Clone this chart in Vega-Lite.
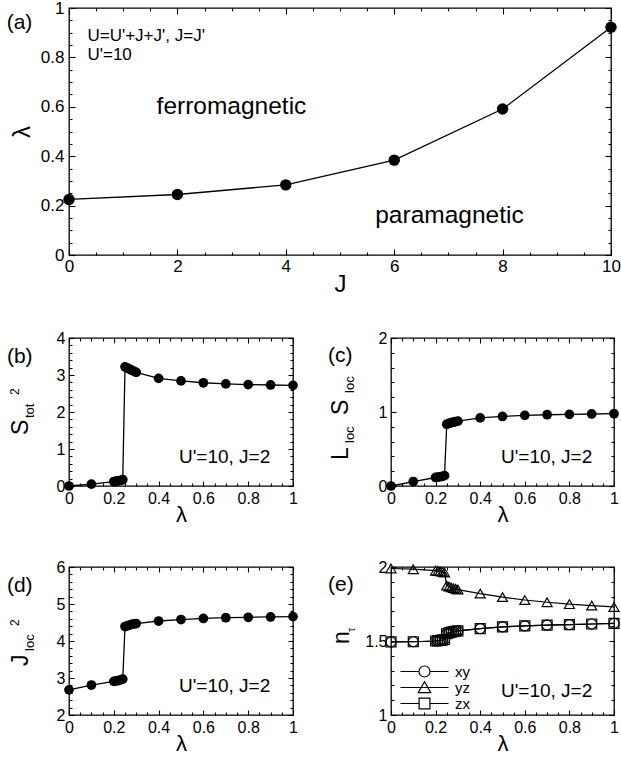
{
  "$schema": "https://vega.github.io/schema/vega-lite/v6.json",
  "padding": {"left": 6, "top": -2, "right": 0, "bottom": 0},
  "spacing": 32,
  "resolve": {"scale": {"shape": "independent"}, "legend": {"shape": "independent"}},
  "config": {
    "font": "Liberation Sans",
    "view": {"stroke": "black", "strokeWidth": 1.3},
    "axis": {
      "domain": false, "grid": false, "tickColor": "black", "tickWidth": 1.1,
      "labelColor": "black", "titleColor": "black", "labelFont": "Liberation Sans",
      "titleFont": "Liberation Sans", "titleFontWeight": "normal",
      "labelFlush": false, "labelOverlap": false, "labelBound": false
    },
    "text": {"color": "black", "font": "Liberation Sans"}
  },
  "datasets": {
    "phase": [
      {"J": 0, "lam": 0.225}, {"J": 2, "lam": 0.245}, {"J": 4, "lam": 0.284},
      {"J": 6, "lam": 0.384}, {"J": 8, "lam": 0.591}, {"J": 10, "lam": 0.922}
    ],
    "loc": [
      {"lam": 0, "S2": 0.0, "LS": 0.0, "J2": 2.68},
      {"lam": 0.1, "S2": 0.05, "LS": 0.06, "J2": 2.81},
      {"lam": 0.2, "S2": 0.12, "LS": 0.115, "J2": 2.91},
      {"lam": 0.21, "S2": 0.13, "LS": 0.12, "J2": 2.92},
      {"lam": 0.22, "S2": 0.14, "LS": 0.125, "J2": 2.93},
      {"lam": 0.23, "S2": 0.15, "LS": 0.13, "J2": 2.95},
      {"lam": 0.24, "S2": 0.17, "LS": 0.14, "J2": 2.97},
      {"lam": 0.25, "S2": 3.22, "LS": 0.835, "J2": 4.39},
      {"lam": 0.26, "S2": 3.19, "LS": 0.845, "J2": 4.41},
      {"lam": 0.27, "S2": 3.16, "LS": 0.855, "J2": 4.43},
      {"lam": 0.28, "S2": 3.13, "LS": 0.862, "J2": 4.45},
      {"lam": 0.29, "S2": 3.10, "LS": 0.87, "J2": 4.46},
      {"lam": 0.3, "S2": 3.07, "LS": 0.876, "J2": 4.47},
      {"lam": 0.4, "S2": 2.91, "LS": 0.92, "J2": 4.54},
      {"lam": 0.5, "S2": 2.84, "LS": 0.94, "J2": 4.58},
      {"lam": 0.6, "S2": 2.79, "LS": 0.955, "J2": 4.61},
      {"lam": 0.7, "S2": 2.76, "LS": 0.963, "J2": 4.63},
      {"lam": 0.8, "S2": 2.74, "LS": 0.968, "J2": 4.64},
      {"lam": 0.9, "S2": 2.73, "LS": 0.973, "J2": 4.65},
      {"lam": 1.0, "S2": 2.72, "LS": 0.977, "J2": 4.66}
    ],
    "occ": [
      {"lam": 0, "orb": "xy", "n": 1.494}, {"lam": 0.1, "orb": "xy", "n": 1.495},
      {"lam": 0.2, "orb": "xy", "n": 1.5}, {"lam": 0.21, "orb": "xy", "n": 1.502},
      {"lam": 0.22, "orb": "xy", "n": 1.504}, {"lam": 0.23, "orb": "xy", "n": 1.506},
      {"lam": 0.24, "orb": "xy", "n": 1.51}, {"lam": 0.25, "orb": "xy", "n": 1.55},
      {"lam": 0.26, "orb": "xy", "n": 1.555}, {"lam": 0.27, "orb": "xy", "n": 1.56},
      {"lam": 0.28, "orb": "xy", "n": 1.563}, {"lam": 0.29, "orb": "xy", "n": 1.566},
      {"lam": 0.3, "orb": "xy", "n": 1.569}, {"lam": 0.4, "orb": "xy", "n": 1.584},
      {"lam": 0.5, "orb": "xy", "n": 1.595}, {"lam": 0.6, "orb": "xy", "n": 1.602},
      {"lam": 0.7, "orb": "xy", "n": 1.607}, {"lam": 0.8, "orb": "xy", "n": 1.611},
      {"lam": 0.9, "orb": "xy", "n": 1.615}, {"lam": 1.0, "orb": "xy", "n": 1.619},
      {"lam": 0, "orb": "yz", "n": 1.99}, {"lam": 0.1, "orb": "yz", "n": 1.985},
      {"lam": 0.2, "orb": "yz", "n": 1.975}, {"lam": 0.21, "orb": "yz", "n": 1.972},
      {"lam": 0.22, "orb": "yz", "n": 1.97}, {"lam": 0.23, "orb": "yz", "n": 1.967},
      {"lam": 0.24, "orb": "yz", "n": 1.963}, {"lam": 0.25, "orb": "yz", "n": 1.875},
      {"lam": 0.26, "orb": "yz", "n": 1.868}, {"lam": 0.27, "orb": "yz", "n": 1.862},
      {"lam": 0.28, "orb": "yz", "n": 1.857}, {"lam": 0.29, "orb": "yz", "n": 1.852},
      {"lam": 0.3, "orb": "yz", "n": 1.847}, {"lam": 0.4, "orb": "yz", "n": 1.82},
      {"lam": 0.5, "orb": "yz", "n": 1.797}, {"lam": 0.6, "orb": "yz", "n": 1.777},
      {"lam": 0.7, "orb": "yz", "n": 1.762}, {"lam": 0.8, "orb": "yz", "n": 1.749},
      {"lam": 0.9, "orb": "yz", "n": 1.739}, {"lam": 1.0, "orb": "yz", "n": 1.73},
      {"lam": 0, "orb": "zx", "n": 1.494}, {"lam": 0.1, "orb": "zx", "n": 1.495},
      {"lam": 0.2, "orb": "zx", "n": 1.5}, {"lam": 0.21, "orb": "zx", "n": 1.502},
      {"lam": 0.22, "orb": "zx", "n": 1.504}, {"lam": 0.23, "orb": "zx", "n": 1.506},
      {"lam": 0.24, "orb": "zx", "n": 1.51}, {"lam": 0.25, "orb": "zx", "n": 1.55},
      {"lam": 0.26, "orb": "zx", "n": 1.555}, {"lam": 0.27, "orb": "zx", "n": 1.56},
      {"lam": 0.28, "orb": "zx", "n": 1.563}, {"lam": 0.29, "orb": "zx", "n": 1.566},
      {"lam": 0.3, "orb": "zx", "n": 1.569}, {"lam": 0.4, "orb": "zx", "n": 1.584},
      {"lam": 0.5, "orb": "zx", "n": 1.595}, {"lam": 0.6, "orb": "zx", "n": 1.602},
      {"lam": 0.7, "orb": "zx", "n": 1.607}, {"lam": 0.8, "orb": "zx", "n": 1.611},
      {"lam": 0.9, "orb": "zx", "n": 1.615}, {"lam": 1.0, "orb": "zx", "n": 1.619}
    ]
  },
  "vconcat": [
    {
      "width": 542, "height": 247,
      "data": {"name": "phase"},
      "resolve": {"axis": {"x": "independent", "y": "independent"}},
      "layer": [
        {
          "mark": {"type": "line", "color": "black", "strokeWidth": 1.3},
          "encoding": {
            "x": {"field": "J", "type": "quantitative", "scale": {"domain": [0, 10], "nice": false, "zero": false},
              "axis": {"orient": "bottom", "values": [0, 2, 4, 6, 8, 10], "labelExpr": "'' + datum.value", "tickSize": -6, "labelPadding": 9, "labelFontSize": 17, "title": "J", "titleFontSize": 24, "titlePadding": -2}},
            "y": {"field": "lam", "type": "quantitative", "scale": {"domain": [0, 1], "nice": false, "zero": false},
              "axis": {"orient": "left", "values": [0, 0.2, 0.4, 0.6, 0.8, 1], "labelExpr": "'' + datum.value", "tickSize": -6, "labelPadding": 11, "labelFontSize": 17, "title": "λ", "titleFontSize": 24, "titlePadding": 6}}
          }
        },
        {
          "mark": {"type": "point", "filled": true, "color": "black", "size": 130, "opacity": 1},
          "encoding": {
            "x": {"field": "J", "type": "quantitative",
              "axis": {"orient": "bottom", "values": [0.5, 1, 1.5, 2.5, 3, 3.5, 4.5, 5, 5.5, 6.5, 7, 7.5, 8.5, 9, 9.5], "labels": false, "tickSize": -3, "title": null}},
            "y": {"field": "lam", "type": "quantitative",
              "axis": {"orient": "left", "values": [0.05, 0.1, 0.15, 0.25, 0.3, 0.35, 0.45, 0.5, 0.55, 0.65, 0.7, 0.75, 0.85, 0.9, 0.95], "labels": false, "tickSize": -3, "title": null}}
          }
        },
        {
          "data": {"values": [{}]},
          "mark": {"type": "text", "text": "U=U'+J+J', J=J'", "fontSize": 17, "align": "left", "baseline": "alphabetic"},
          "encoding": {
            "x": {"datum": 0.34, "type": "quantitative",
              "axis": {"orient": "top", "values": [0, 2, 4, 6, 8, 10], "labels": false, "tickSize": -6, "title": null}},
            "y": {"datum": 0.866, "type": "quantitative",
              "axis": {"orient": "right", "values": [0, 0.2, 0.4, 0.6, 0.8, 1], "labels": false, "tickSize": -6, "title": null}}
          }
        },
        {
          "data": {"values": [{}]},
          "mark": {"type": "text", "text": "U'=10", "fontSize": 17, "align": "left", "baseline": "alphabetic"},
          "encoding": {
            "x": {"datum": 0.34, "type": "quantitative",
              "axis": {"orient": "top", "values": [0.5, 1, 1.5, 2.5, 3, 3.5, 4.5, 5, 5.5, 6.5, 7, 7.5, 8.5, 9, 9.5], "labels": false, "tickSize": -3, "title": null}},
            "y": {"datum": 0.788, "type": "quantitative",
              "axis": {"orient": "right", "values": [0.05, 0.1, 0.15, 0.25, 0.3, 0.35, 0.45, 0.5, 0.55, 0.65, 0.7, 0.75, 0.85, 0.9, 0.95], "labels": false, "tickSize": -3, "title": null}}
          }
        },
        {
          "data": {"values": [{}]},
          "mark": {"type": "text", "text": "ferromagnetic", "fontSize": 24.5, "align": "left", "baseline": "alphabetic"},
          "encoding": {"x": {"datum": 1.616, "type": "quantitative", "axis": null}, "y": {"datum": 0.571, "type": "quantitative", "axis": null}}
        },
        {
          "data": {"values": [{}]},
          "mark": {"type": "text", "text": "paramagnetic", "fontSize": 24.5, "align": "left", "baseline": "alphabetic"},
          "encoding": {"x": {"datum": 5.65, "type": "quantitative", "axis": null}, "y": {"datum": 0.128, "type": "quantitative", "axis": null}}
        },
        {
          "data": {"values": [{}]},
          "mark": {"type": "text", "text": "(a)", "fontSize": 21, "align": "left", "baseline": "middle"},
          "encoding": {"x": {"datum": -1.15, "type": "quantitative", "axis": null}, "y": {"datum": 0.938, "type": "quantitative", "axis": null}}
        }
      ]
    },
    {
      "spacing": 28,
      "hconcat": [
        {
          "width": 224, "height": 148,
          "data": {"name": "loc"},
          "resolve": {"axis": {"x": "independent", "y": "independent"}},
          "layer": [
            {
              "mark": {"type": "line", "color": "black", "strokeWidth": 1.3},
              "encoding": {
                "x": {"field": "lam", "type": "quantitative", "scale": {"domain": [0, 1], "nice": false, "zero": false},
                  "axis": {"orient": "bottom", "values": [0, 0.2, 0.4, 0.6, 0.8, 1], "labelExpr": "'' + datum.value", "tickSize": -5, "labelPadding": 9, "labelFontSize": 16, "title": "λ", "titleFontSize": 22, "titlePadding": -2}},
                "y": {"field": "S2", "type": "quantitative", "scale": {"domain": [0, 4], "nice": false, "zero": false},
                  "axis": {"orient": "left", "values": [0, 1, 2, 3, 4], "labelExpr": "'' + datum.value", "tickSize": -5, "labelPadding": 9, "labelFontSize": 16, "title": null}}
              }
            },
            {
              "mark": {"type": "point", "filled": true, "color": "black", "size": 95, "opacity": 1},
              "encoding": {
                "x": {"field": "lam", "type": "quantitative",
                  "axis": {"orient": "bottom", "values": [0.05, 0.1, 0.15, 0.25, 0.3, 0.35, 0.45, 0.5, 0.55, 0.65, 0.7, 0.75, 0.85, 0.9, 0.95], "labels": false, "tickSize": -3, "title": null}},
                "y": {"field": "S2", "type": "quantitative",
                  "axis": {"orient": "left", "values": [0.2, 0.4, 0.6, 0.8, 1.2, 1.4, 1.6, 1.8, 2.2, 2.4, 2.6, 2.8, 3.2, 3.4, 3.6, 3.8], "labels": false, "tickSize": -3, "title": null}}
              }
            },
            {
              "data": {"values": [{}]},
              "mark": {"type": "text", "text": "U'=10, J=2", "fontSize": 19, "align": "left", "baseline": "alphabetic"},
              "encoding": {
                "x": {"datum": 0.491, "type": "quantitative",
                  "axis": {"orient": "top", "values": [0, 0.2, 0.4, 0.6, 0.8, 1], "labels": false, "tickSize": -5, "title": null}},
                "y": {"datum": 0.62, "type": "quantitative",
                  "axis": {"orient": "right", "values": [0, 1, 2, 3, 4], "labels": false, "tickSize": -5, "title": null}}
              }
            },
            {
              "data": {"values": [{}]},
              "mark": {"type": "text", "text": "(b)", "fontSize": 21, "align": "left", "baseline": "middle"},
              "encoding": {
                "x": {"datum": -0.277, "type": "quantitative",
                  "axis": {"orient": "top", "values": [0.05, 0.1, 0.15, 0.25, 0.3, 0.35, 0.45, 0.5, 0.55, 0.65, 0.7, 0.75, 0.85, 0.9, 0.95], "labels": false, "tickSize": -3, "title": null}},
                "y": {"datum": 3.49, "type": "quantitative",
                  "axis": {"orient": "right", "values": [0.2, 0.4, 0.6, 0.8, 1.2, 1.4, 1.6, 1.8, 2.2, 2.4, 2.6, 2.8, 3.2, 3.4, 3.6, 3.8], "labels": false, "tickSize": -3, "title": null}}
              }
            },
            {
              "data": {"values": [{}]},
              "mark": {"type": "text", "text": "S", "fontSize": 23, "angle": 270, "align": "left", "baseline": "alphabetic"},
              "encoding": {"x": {"datum": -0.184, "type": "quantitative", "axis": null}, "y": {"datum": 1.378, "type": "quantitative", "axis": null}}
            },
            {
              "data": {"values": [{}]},
              "mark": {"type": "text", "text": "tot", "fontSize": 13, "angle": 270, "align": "left", "baseline": "alphabetic"},
              "encoding": {"x": {"datum": -0.156, "type": "quantitative", "axis": null}, "y": {"datum": 1.838, "type": "quantitative", "axis": null}}
            },
            {
              "data": {"values": [{}]},
              "mark": {"type": "text", "text": "2", "fontSize": 12, "angle": 270, "align": "left", "baseline": "alphabetic"},
              "encoding": {"x": {"datum": -0.223, "type": "quantitative", "axis": null}, "y": {"datum": 2.46, "type": "quantitative", "axis": null}}
            }
          ]
        },
        {
          "width": 223, "height": 148,
          "data": {"name": "loc"},
          "resolve": {"axis": {"x": "independent", "y": "independent"}},
          "layer": [
            {
              "mark": {"type": "line", "color": "black", "strokeWidth": 1.3},
              "encoding": {
                "x": {"field": "lam", "type": "quantitative", "scale": {"domain": [0, 1], "nice": false, "zero": false},
                  "axis": {"orient": "bottom", "values": [0, 0.2, 0.4, 0.6, 0.8, 1], "labelExpr": "'' + datum.value", "tickSize": -5, "labelPadding": 9, "labelFontSize": 16, "title": "λ", "titleFontSize": 22, "titlePadding": -2}},
                "y": {"field": "LS", "type": "quantitative", "scale": {"domain": [0, 2], "nice": false, "zero": false},
                  "axis": {"orient": "left", "values": [0, 1, 2], "labelExpr": "'' + datum.value", "tickSize": -5, "labelPadding": 9, "labelFontSize": 16, "title": null}}
              }
            },
            {
              "mark": {"type": "point", "filled": true, "color": "black", "size": 95, "opacity": 1},
              "encoding": {
                "x": {"field": "lam", "type": "quantitative",
                  "axis": {"orient": "bottom", "values": [0.05, 0.1, 0.15, 0.25, 0.3, 0.35, 0.45, 0.5, 0.55, 0.65, 0.7, 0.75, 0.85, 0.9, 0.95], "labels": false, "tickSize": -3, "title": null}},
                "y": {"field": "LS", "type": "quantitative",
                  "axis": {"orient": "left", "values": [0.2, 0.4, 0.6, 0.8, 1.2, 1.4, 1.6, 1.8], "labels": false, "tickSize": -3, "title": null}}
              }
            },
            {
              "data": {"values": [{}]},
              "mark": {"type": "text", "text": "U'=10, J=2", "fontSize": 19, "align": "left", "baseline": "alphabetic"},
              "encoding": {
                "x": {"datum": 0.493, "type": "quantitative",
                  "axis": {"orient": "top", "values": [0, 0.2, 0.4, 0.6, 0.8, 1], "labels": false, "tickSize": -5, "title": null}},
                "y": {"datum": 0.311, "type": "quantitative",
                  "axis": {"orient": "right", "values": [0, 1, 2], "labels": false, "tickSize": -5, "title": null}}
              }
            },
            {
              "data": {"values": [{}]},
              "mark": {"type": "text", "text": "(c)", "fontSize": 21, "align": "left", "baseline": "middle"},
              "encoding": {
                "x": {"datum": -0.2825, "type": "quantitative",
                  "axis": {"orient": "top", "values": [0.05, 0.1, 0.15, 0.25, 0.3, 0.35, 0.45, 0.5, 0.55, 0.65, 0.7, 0.75, 0.85, 0.9, 0.95], "labels": false, "tickSize": -3, "title": null}},
                "y": {"datum": 1.757, "type": "quantitative",
                  "axis": {"orient": "right", "values": [0.2, 0.4, 0.6, 0.8, 1.2, 1.4, 1.6, 1.8], "labels": false, "tickSize": -3, "title": null}}
              }
            },
            {
              "data": {"values": [{}]},
              "mark": {"type": "text", "text": "L", "fontSize": 23, "angle": 270, "align": "left", "baseline": "alphabetic"},
              "encoding": {"x": {"datum": -0.193, "type": "quantitative", "axis": null}, "y": {"datum": 0.351, "type": "quantitative", "axis": null}}
            },
            {
              "data": {"values": [{}]},
              "mark": {"type": "text", "text": "loc", "fontSize": 13, "angle": 270, "align": "left", "baseline": "alphabetic"},
              "encoding": {"x": {"datum": -0.166, "type": "quantitative", "axis": null}, "y": {"datum": 0.581, "type": "quantitative", "axis": null}}
            },
            {
              "data": {"values": [{}]},
              "mark": {"type": "text", "text": "S", "fontSize": 23, "angle": 270, "align": "left", "baseline": "alphabetic"},
              "encoding": {"x": {"datum": -0.193, "type": "quantitative", "axis": null}, "y": {"datum": 0.959, "type": "quantitative", "axis": null}}
            },
            {
              "data": {"values": [{}]},
              "mark": {"type": "text", "text": "loc", "fontSize": 13, "angle": 270, "align": "left", "baseline": "alphabetic"},
              "encoding": {"x": {"datum": -0.166, "type": "quantitative", "axis": null}, "y": {"datum": 1.257, "type": "quantitative", "axis": null}}
            }
          ]
        }
      ]
    },
    {
      "spacing": 28,
      "resolve": {"scale": {"shape": "independent"}, "legend": {"shape": "independent"}},
      "hconcat": [
        {
          "width": 224, "height": 148,
          "data": {"name": "loc"},
          "resolve": {"axis": {"x": "independent", "y": "independent"}},
          "layer": [
            {
              "mark": {"type": "line", "color": "black", "strokeWidth": 1.3},
              "encoding": {
                "x": {"field": "lam", "type": "quantitative", "scale": {"domain": [0, 1], "nice": false, "zero": false},
                  "axis": {"orient": "bottom", "values": [0, 0.2, 0.4, 0.6, 0.8, 1], "labelExpr": "'' + datum.value", "tickSize": -5, "labelPadding": 9, "labelFontSize": 16, "title": "λ", "titleFontSize": 22, "titlePadding": -2}},
                "y": {"field": "J2", "type": "quantitative", "scale": {"domain": [2, 6], "nice": false, "zero": false},
                  "axis": {"orient": "left", "values": [2, 3, 4, 5, 6], "labelExpr": "'' + datum.value", "tickSize": -5, "labelPadding": 9, "labelFontSize": 16, "title": null}}
              }
            },
            {
              "mark": {"type": "point", "filled": true, "color": "black", "size": 95, "opacity": 1},
              "encoding": {
                "x": {"field": "lam", "type": "quantitative",
                  "axis": {"orient": "bottom", "values": [0.05, 0.1, 0.15, 0.25, 0.3, 0.35, 0.45, 0.5, 0.55, 0.65, 0.7, 0.75, 0.85, 0.9, 0.95], "labels": false, "tickSize": -3, "title": null}},
                "y": {"field": "J2", "type": "quantitative",
                  "axis": {"orient": "left", "values": [2.2, 2.4, 2.6, 2.8, 3.2, 3.4, 3.6, 3.8, 4.2, 4.4, 4.6, 4.8, 5.2, 5.4, 5.6, 5.8], "labels": false, "tickSize": -3, "title": null}}
              }
            },
            {
              "data": {"values": [{}]},
              "mark": {"type": "text", "text": "U'=10, J=2", "fontSize": 19, "align": "left", "baseline": "alphabetic"},
              "encoding": {
                "x": {"datum": 0.491, "type": "quantitative",
                  "axis": {"orient": "top", "values": [0, 0.2, 0.4, 0.6, 0.8, 1], "labels": false, "tickSize": -5, "title": null}},
                "y": {"datum": 2.62, "type": "quantitative",
                  "axis": {"orient": "right", "values": [2, 3, 4, 5, 6], "labels": false, "tickSize": -5, "title": null}}
              }
            },
            {
              "data": {"values": [{}]},
              "mark": {"type": "text", "text": "(d)", "fontSize": 21, "align": "left", "baseline": "middle"},
              "encoding": {
                "x": {"datum": -0.277, "type": "quantitative",
                  "axis": {"orient": "top", "values": [0.05, 0.1, 0.15, 0.25, 0.3, 0.35, 0.45, 0.5, 0.55, 0.65, 0.7, 0.75, 0.85, 0.9, 0.95], "labels": false, "tickSize": -3, "title": null}},
                "y": {"datum": 5.49, "type": "quantitative",
                  "axis": {"orient": "right", "values": [2.2, 2.4, 2.6, 2.8, 3.2, 3.4, 3.6, 3.8, 4.2, 4.4, 4.6, 4.8, 5.2, 5.4, 5.6, 5.8], "labels": false, "tickSize": -3, "title": null}}
              }
            },
            {
              "data": {"values": [{}]},
              "mark": {"type": "text", "text": "J", "fontSize": 23, "angle": 270, "align": "left", "baseline": "alphabetic"},
              "encoding": {"x": {"datum": -0.184, "type": "quantitative", "axis": null}, "y": {"datum": 3.324, "type": "quantitative", "axis": null}}
            },
            {
              "data": {"values": [{}]},
              "mark": {"type": "text", "text": "loc", "fontSize": 13, "angle": 270, "align": "left", "baseline": "alphabetic"},
              "encoding": {"x": {"datum": -0.156, "type": "quantitative", "axis": null}, "y": {"datum": 3.73, "type": "quantitative", "axis": null}}
            },
            {
              "data": {"values": [{}]},
              "mark": {"type": "text", "text": "2", "fontSize": 12, "angle": 270, "align": "left", "baseline": "alphabetic"},
              "encoding": {"x": {"datum": -0.223, "type": "quantitative", "axis": null}, "y": {"datum": 4.405, "type": "quantitative", "axis": null}}
            }
          ]
        },
        {
          "width": 223, "height": 148,
          "data": {"name": "occ"},
          "resolve": {"axis": {"x": "independent", "y": "independent"}},
          "layer": [
            {
              "mark": {"type": "line", "color": "black", "strokeWidth": 1.2},
              "encoding": {
                "x": {"field": "lam", "type": "quantitative", "scale": {"domain": [0, 1], "nice": false, "zero": false},
                  "axis": {"orient": "bottom", "values": [0, 0.2, 0.4, 0.6, 0.8, 1], "labelExpr": "'' + datum.value", "tickSize": -5, "labelPadding": 9, "labelFontSize": 16, "title": "λ", "titleFontSize": 22, "titlePadding": -2}},
                "y": {"field": "n", "type": "quantitative", "scale": {"domain": [1, 2], "nice": false, "zero": false},
                  "axis": {"orient": "left", "values": [1, 1.5, 2], "labelExpr": "'' + datum.value", "tickSize": -5, "labelPadding": 9, "labelFontSize": 16, "title": null}},
                "detail": {"field": "orb", "type": "nominal"}
              }
            },
            {
              "transform": [{"filter": "datum.orb === 'xy'"}],
              "mark": {"type": "point", "shape": "circle", "filled": false, "color": "black", "size": 100, "strokeWidth": 1.2, "opacity": 1},
              "encoding": {
                "x": {"field": "lam", "type": "quantitative",
                  "axis": {"orient": "bottom", "values": [0.05, 0.1, 0.15, 0.25, 0.3, 0.35, 0.45, 0.5, 0.55, 0.65, 0.7, 0.75, 0.85, 0.9, 0.95], "labels": false, "tickSize": -3, "title": null}},
                "y": {"field": "n", "type": "quantitative",
                  "axis": {"orient": "left", "values": [1.1, 1.2, 1.3, 1.4, 1.6, 1.7, 1.8, 1.9], "labels": false, "tickSize": -3, "title": null}}
              }
            },
            {
              "transform": [{"filter": "datum.orb === 'yz'"}],
              "mark": {"type": "point", "shape": "triangle-up", "filled": false, "color": "black", "size": 100, "strokeWidth": 1.2, "opacity": 1},
              "encoding": {
                "x": {"field": "lam", "type": "quantitative", "axis": null},
                "y": {"field": "n", "type": "quantitative", "axis": null}
              }
            },
            {
              "transform": [{"filter": "datum.orb === 'zx'"}],
              "mark": {"type": "point", "shape": "square", "filled": false, "color": "black", "size": 100, "strokeWidth": 1.2, "opacity": 1},
              "encoding": {
                "x": {"field": "lam", "type": "quantitative", "axis": null},
                "y": {"field": "n", "type": "quantitative", "axis": null}
              }
            },
            {
              "transform": [{"filter": "false"}],
              "mark": {"type": "point", "filled": false, "color": "black", "size": 144, "strokeWidth": 1.2, "opacity": 1},
              "encoding": {
                "x": {"field": "lam", "type": "quantitative", "axis": null},
                "y": {"field": "n", "type": "quantitative", "axis": null},
                "shape": {
                  "field": "orb", "type": "nominal",
                  "scale": {"domain": ["xy", "yz", "zx"], "range": [
                    "M-4,0L-0.92,0M0.92,0L4,0M0.92,0A0.92,0.92,0,1,1,-0.92,0A0.92,0.92,0,1,1,0.92,0",
                    "M-4,0L4,0M0,-0.95L1.05,0.85L-1.05,0.85Z",
                    "M-4,0L-0.9,0M0.9,0L4,0M-0.9,-0.9L0.9,-0.9L0.9,0.9L-0.9,0.9Z"
                  ]},
                  "legend": {
                    "title": null, "orient": "bottom-left", "offset": 3, "padding": 0,
                    "symbolSize": 144, "symbolStrokeWidth": 1.2, "symbolStrokeColor": "black", "symbolFillColor": "transparent",
                    "symbolOffset": 23,
                    "labelFontSize": 15, "labelOffset": 23, "rowPadding": -2.5, "labelFont": "Liberation Sans", "labelColor": "black"
                  }
                }
              }
            },
            {
              "data": {"values": [{}]},
              "mark": {"type": "text", "text": "U'=10, J=2", "fontSize": 19, "align": "left", "baseline": "alphabetic"},
              "encoding": {
                "x": {"datum": 0.493, "type": "quantitative",
                  "axis": {"orient": "top", "values": [0, 0.2, 0.4, 0.6, 0.8, 1], "labels": false, "tickSize": -5, "title": null}},
                "y": {"datum": 1.12, "type": "quantitative",
                  "axis": {"orient": "right", "values": [1, 1.5, 2], "labels": false, "tickSize": -5, "title": null}}
              }
            },
            {
              "data": {"values": [{}]},
              "mark": {"type": "text", "text": "(e)", "fontSize": 21, "align": "left", "baseline": "middle"},
              "encoding": {
                "x": {"datum": -0.2825, "type": "quantitative",
                  "axis": {"orient": "top", "values": [0.05, 0.1, 0.15, 0.25, 0.3, 0.35, 0.45, 0.5, 0.55, 0.65, 0.7, 0.75, 0.85, 0.9, 0.95], "labels": false, "tickSize": -3, "title": null}},
                "y": {"datum": 1.878, "type": "quantitative",
                  "axis": {"orient": "right", "values": [1.1, 1.2, 1.3, 1.4, 1.6, 1.7, 1.8, 1.9], "labels": false, "tickSize": -3, "title": null}}
              }
            },
            {
              "data": {"values": [{}]},
              "mark": {"type": "text", "text": "n", "fontSize": 23, "angle": 270, "align": "left", "baseline": "alphabetic"},
              "encoding": {"x": {"datum": -0.188, "type": "quantitative", "axis": null}, "y": {"datum": 1.48, "type": "quantitative", "axis": null}}
            },
            {
              "data": {"values": [{}]},
              "mark": {"type": "text", "text": "τ", "fontSize": 11, "angle": 270, "align": "left", "baseline": "alphabetic"},
              "encoding": {"x": {"datum": -0.161, "type": "quantitative", "axis": null}, "y": {"datum": 1.561, "type": "quantitative", "axis": null}}
            }
          ]
        }
      ]
    }
  ]
}
